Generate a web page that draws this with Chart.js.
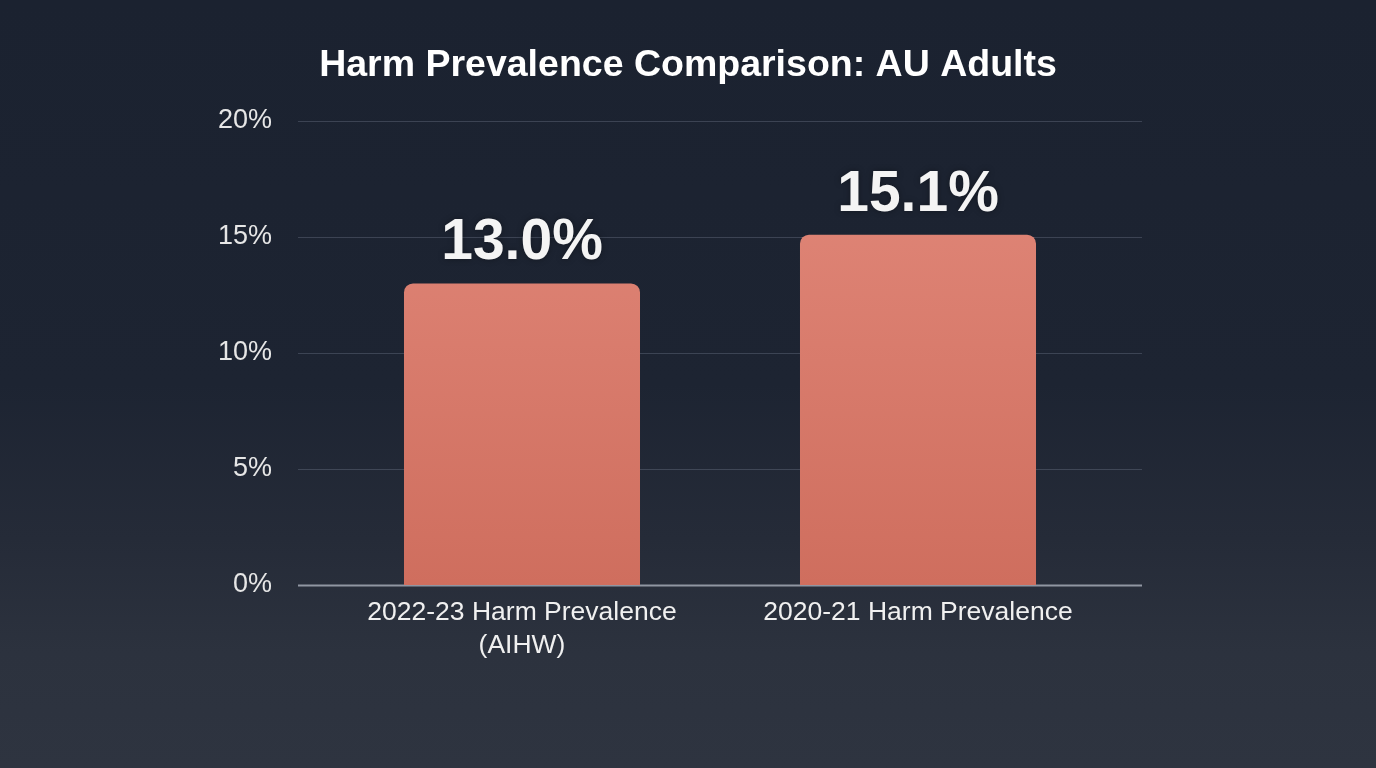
<!DOCTYPE html>
<html>
<head>
<meta charset="utf-8">
<script src="https://cdn.jsdelivr.net/npm/chart.js@4.4.0/dist/chart.umd.min.js"></script>
<style>
  html, body { margin: 0; padding: 0; width: 1376px; height: 768px; overflow: hidden; }
  body { background: linear-gradient(180deg, #1b2230 0%, #1d2432 50%, #252b38 70%, #2c323e 85%, #2e3440 100%); }
  #wrap { position: absolute; left: 0; top: 0; width: 1376px; height: 768px; }
</style>
</head>
<body>
<div id="wrap"><canvas id="c" width="1376" height="768"></canvas></div>
<script>
const titleText = "Harm Prevalence Comparison: AU Adults";
const categories = [["2022-23 Harm Prevalence", "(AIHW)"], "2020-21 Harm Prevalence"];
const values = [13.0, 15.1];
const valueLabels = ["13.0%", "15.1%"];
const yTicks = [0, 5, 10, 15, 20];

const FONT = "'Liberation Sans', Arial, sans-serif";

const gridPlugin = {
  id: 'extGrid',
  beforeDatasetsDraw(chart) {
    const { ctx, chartArea, scales } = chart;
    const ext = 26;
    ctx.save();
    scales.y.ticks.forEach(t => {
      const y = Math.round(scales.y.getPixelForValue(t.value)) + 0.5;
      ctx.beginPath();
      if (t.value === 0) {
        ctx.strokeStyle = 'rgba(150,156,168,0.95)';
        ctx.lineWidth = 2;
      } else {
        ctx.strokeStyle = 'rgba(120,130,148,0.35)';
        ctx.lineWidth = 1;
      }
      ctx.moveTo(chartArea.left - ext, y);
      ctx.lineTo(chartArea.right + ext, y);
      ctx.stroke();
    });
    ctx.restore();
  }
};

const labelPlugin = {
  id: 'valLabels',
  afterDatasetsDraw(chart) {
    const { ctx } = chart;
    const meta = chart.getDatasetMeta(0);
    ctx.save();
    ctx.font = "bold 57px " + FONT;
    ctx.fillStyle = '#f4f4f4';
    ctx.textAlign = 'center';
    ctx.textBaseline = 'alphabetic';
    ctx.shadowColor = 'rgba(0,0,0,0.35)';
    ctx.shadowBlur = 6;
    meta.data.forEach((bar, i) => {
      ctx.fillText(valueLabels[i], bar.x, bar.y - 24);
    });
    ctx.restore();
  }
};

new Chart(document.getElementById('c'), {
  type: 'bar',
  data: {
    labels: categories,
    datasets: [{
      data: values,
      backgroundColor(ctx) {
        const ca = ctx.chart.chartArea;
        if (!ca) return '#d97a6a';
        const g = ctx.chart.ctx.createLinearGradient(0, ca.top, 0, ca.bottom);
        g.addColorStop(0, '#e2897b');
        g.addColorStop(1, '#cf6e5e');
        return g;
      },
      borderRadius: 9,
      borderSkipped: 'bottom',
      categoryPercentage: 1,
      barPercentage: 0.596
    }]
  },
  options: {
    responsive: false,
    devicePixelRatio: 1,
    animation: false,
    layout: { padding: { top: 24, left: 0, right: 0, bottom: 0 } },
    plugins: {
      legend: { display: false },
      tooltip: { enabled: false },
      title: {
        display: true,
        text: titleText,
        color: '#ffffff',
        font: { family: FONT, size: 37.5, weight: 'bold', lineHeight: 1.2 },
        padding: { top: 19, bottom: 33 }
      }
    },
    scales: {
      x: {
        grid: { display: false, drawTicks: false },
        border: { display: false },
        ticks: {
          color: '#f0f0f0',
          font: { family: FONT, size: 26.5, lineHeight: 1.245 },
          padding: 11,
          maxRotation: 0,
          autoSkip: false
        },
        afterFit(s) { s.height = 183; }
      },
      y: {
        min: 0,
        max: 20,
        afterBuildTicks(s) { s.ticks = yTicks.map(v => ({ value: v })); },
        grid: { display: false, drawTicks: false },
        border: { display: false },
        ticks: {
          color: '#e6e6e6',
          font: { family: FONT, size: 27 },
          padding: 52,
          callback: v => v + '%'
        },
        afterFit(s) { s.width = 324; }
      },
      yRight: {
        position: 'right',
        display: true,
        min: 0,
        max: 20,
        grid: { display: false, drawTicks: false },
        border: { display: false },
        ticks: { display: false },
        afterFit(s) { s.width = 260; }
      }
    }
  },
  plugins: [gridPlugin, labelPlugin]
});
</script>
</body>
</html>
